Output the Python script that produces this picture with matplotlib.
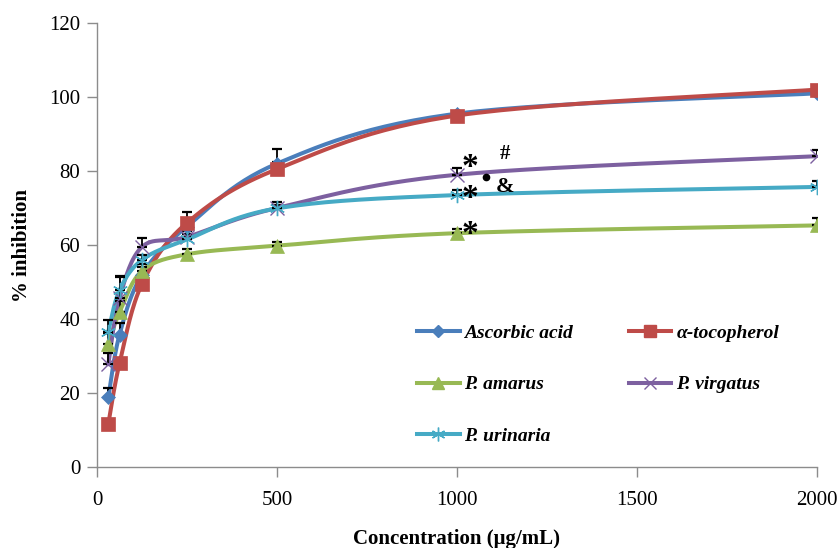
import numpy as np
import matplotlib
matplotlib.use('Agg')
import matplotlib.pyplot as plt

conc = [31.25, 62.5, 125, 250, 500, 1000, 2000]

ascorbic = [18.8, 35.8, 52.0, 65.0, 82.0, 95.5, 101.0]
tocopherol = [11.6, 28.0, 49.5, 66.0, 80.5, 95.0, 102.0]
amarus = [33.2, 41.8, 53.0, 57.5, 59.8, 63.2, 65.3]
virgatus = [27.8, 45.6, 59.5, 62.2, 70.0, 79.0, 84.0]
urinaria = [36.6, 47.8, 56.0, 61.5, 69.9, 73.5, 75.7]

err_ascorbic = [2.5, 3.0, 2.0, 2.0, 4.0, 0.3, 0.3]
err_tocopherol = [1.0, 1.0, 1.5, 3.0, 2.0, 0.3, 0.3]
err_amarus = [3.0, 3.0, 2.0, 1.5, 1.0, 1.0, 2.0]
err_virgatus = [3.0, 6.0, 2.5, 1.5, 1.5, 1.8, 1.8]
err_urinaria = [3.0, 3.6, 1.3, 1.5, 1.0, 1.5, 1.5]

labels = ['Ascorbic acid', 'α-tocopherol', 'P. amarus', 'P. virgatus', 'P. urinaria']
colors = ['#4A7EBB', '#BE4B48', '#98B954', '#7D60A0', '#46AAC5']
markers = ['D', 's', '^', 'x', (6, 2, 0)]
msizes = [7, 10, 10, 10, 11]


def smooth(x, y, n=30):
    # Excel-style smoothed line (Catmull-Rom through bezier control points)
    x = np.asarray(x, float)
    y = np.asarray(y, float)
    P = np.column_stack([x, y])
    P = np.vstack([P[0], P, P[-1]])
    out = []
    t = np.linspace(0, 1, n)[:, None]
    for i in range(1, len(P) - 2):
        p0, p1, p2, p3 = P[i - 1], P[i], P[i + 1], P[i + 2]
        c1 = p1 + (p2 - p0) / 6
        c2 = p2 - (p3 - p1) / 6
        seg = (1 - t) ** 3 * p1 + 3 * (1 - t) ** 2 * t * c1 + 3 * (1 - t) * t ** 2 * c2 + t ** 3 * p2
        out.append(seg)
    out = np.vstack(out)
    return out[:, 0], out[:, 1]


fig = plt.figure(figsize=(8.38, 5.48), dpi=100)
ax = fig.add_axes([0.1158, 0.1478, 0.859, 0.8102])

series = [ascorbic, tocopherol, amarus, virgatus, urinaria]
errs = [err_ascorbic, err_tocopherol, err_amarus, err_virgatus, err_urinaria]

handles = []
for i, (vals, col, mk, ms, lab) in enumerate(zip(series, colors, markers, msizes, labels)):
    sx, sy = smooth(conc, vals)
    ax.plot(sx, sy, color=col, lw=2.9, zorder=2 + i * 0.1)
    ax.plot(conc, vals, ls='none', marker=mk, ms=ms, color=col, mec=col,
            mew=1.0 if mk in ('x', (6, 2, 0)) else 0.5, zorder=3 + i * 0.1)
    h, = ax.plot([], [], color=col, lw=2.9, marker=mk, ms=ms * 0.9, mec=col, label=lab)
    handles.append(h)

for vals, e in zip(series, errs):
    ax.errorbar(conc, vals, yerr=[np.zeros(len(e)), e], fmt='none', ecolor='black',
                elinewidth=1.3, capsize=3.5, capthick=1.6, zorder=2.7)

ax.set_xlim(0, 2000)
ax.set_ylim(0, 120)
ax.set_xticks([0, 500, 1000, 1500, 2000])
ax.set_yticks(range(0, 121, 20))
for s in ['top', 'right']:
    ax.spines[s].set_visible(False)
for s in ['left', 'bottom']:
    ax.spines[s].set_color('#8c8c8c')
    ax.spines[s].set_linewidth(1.0)
ax.tick_params(axis='both', direction='out', length=7, width=1, color='#8c8c8c',
               labelsize=15, labelfontfamily='Liberation Serif')
ax.tick_params(axis='x', pad=10)
ax.tick_params(axis='y', pad=5)

ax.set_xlabel('Concentration (μg/mL)', fontsize=15, fontweight='bold',
              family='Liberation Serif', va='center')
ax.set_ylabel('% inhibition', fontsize=15, fontweight='bold',
              family='Liberation Serif', va='center')
ax.xaxis.set_label_coords(0.5, -0.162)
ax.yaxis.set_label_coords(-0.104, 0.5)

# row-wise legend order like the original
order = [0, 2, 4, 1, 3]
ax.legend([handles[k] for k in order], [labels[k] for k in order],
          loc='lower left', bbox_to_anchor=(0.42, 0.01), ncol=2, frameon=False,
          prop={'family': 'Liberation Serif', 'weight': 'bold', 'style': 'italic', 'size': 14},
          handlelength=2.2, handletextpad=0.25, columnspacing=2.85, labelspacing=1.75)

# significance marks
tk = dict(family='Liberation Serif', fontweight='bold', color='black', ha='center', va='center')
ax.text(1036, 80.9, '*', fontsize=24, **tk)
ax.text(1036, 72.7, '*', fontsize=24, **tk)
ax.text(1036, 62.8, '*', fontsize=24, **tk)
ax.text(1133, 84.5, '#', fontsize=15, **tk)
ax.text(1133, 75.6, '&', fontsize=16, **tk)
ax.plot([1080], [78.3], 'o', color='black', ms=4.5, zorder=4)

fig.savefig('out.png', dpi=100)
